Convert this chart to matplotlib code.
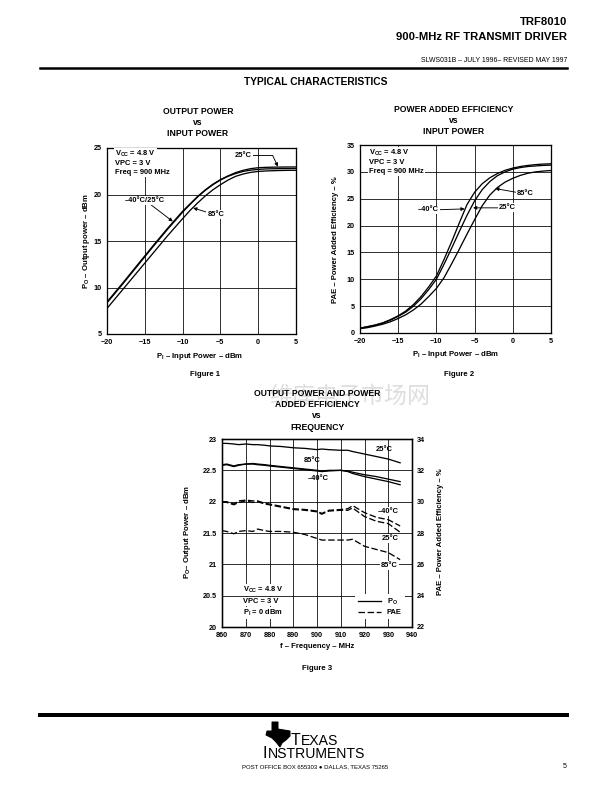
import matplotlib.pyplot as plt
from matplotlib.lines import Line2D
from matplotlib.patches import Polygon

plt.rcParams['font.family'] = ['Liberation Sans', 'DejaVu Sans']
plt.rcParams['font.weight'] = 'bold'
plt.rcParams['axes.labelweight'] = 'bold'
plt.rcParams['mathtext.fontset'] = 'custom'
plt.rcParams['mathtext.rm'] = 'Liberation Sans:bold'
plt.rcParams['mathtext.it'] = 'Liberation Sans:bold'
plt.rcParams['mathtext.bf'] = 'Liberation Sans:bold'

# Figure 1 - output power vs input power
pin1 = [-20, -18, -16, -14, -12, -10, -9, -8, -7, -6, -5, -4, -3, -2, -1, 0, 1, 2, 3, 4, 5]
po_25 = [8.45, 10.4, 12.4, 14.4, 16.35, 18.2, 19.0, 19.8, 20.5, 21.1, 21.6, 22.0, 22.35, 22.6,
         22.78, 22.88, 22.92, 22.94, 22.95, 22.96, 22.96]
po_m40 = [8.35, 10.3, 12.3, 14.3, 16.25, 18.1, 18.95, 19.75, 20.45, 21.05, 21.55, 21.95, 22.25,
          22.48, 22.62, 22.7, 22.75, 22.77, 22.78, 22.79, 22.8]
po_85 = [7.75, 9.7, 11.65, 13.6, 15.55, 17.4, 18.3, 19.1, 19.85, 20.5, 21.05, 21.55, 21.95, 22.2,
         22.38, 22.48, 22.53, 22.56, 22.58, 22.6, 22.6]

# Figure 2 - PAE vs input power
pin2 = list(range(-20, 6))
pae_m40 = [0.9, 1.2, 1.5, 1.9, 2.5, 3.2, 4.1, 5.3, 6.8, 8.6, 10.6, 13.7, 17.0, 20.5, 23.9, 26.2,
           27.8, 28.9, 29.7, 30.3, 30.7, 31.0, 31.2, 31.35, 31.45, 31.5]
pae_25 = [0.9, 1.15, 1.45, 1.85, 2.4, 3.1, 3.9, 5.0, 6.4, 8.1, 10.0, 12.8, 15.8, 18.9, 21.9, 24.6,
          26.7, 28.2, 29.3, 30.0, 30.5, 30.8, 31.0, 31.1, 31.2, 31.25]
pae_85 = [0.8, 1.0, 1.3, 1.65, 2.1, 2.7, 3.4, 4.3, 5.4, 6.8, 8.3, 10.3, 12.9, 15.6, 18.4, 21.1,
          23.7, 25.7, 27.1, 28.1, 28.8, 29.35, 29.75, 30.0, 30.15, 30.25]

# Figure 3 - Po and PAE vs frequency
freq = [860, 862, 865, 867, 870, 873, 875, 878, 880, 885, 890, 895, 900, 902, 905, 910, 913, 915,
        920, 925, 930, 935]
pof_25 = [22.93, 22.93, 22.92, 22.91, 22.92, 22.91, 22.91, 22.90, 22.89, 22.88, 22.86, 22.85, 22.83,
          22.84, 22.83, 22.82, 22.82, 22.80, 22.76, 22.72, 22.68, 22.62]
pof_85 = [22.59, 22.60, 22.57, 22.59, 22.60, 22.61, 22.60, 22.59, 22.58, 22.56, 22.54, 22.52, 22.50,
          22.49, 22.50, 22.50, 22.49, 22.47, 22.43, 22.40, 22.36, 22.32]
pof_m40 = [22.58, 22.59, 22.56, 22.58, 22.60, 22.60, 22.59, 22.58, 22.57, 22.55, 22.53, 22.51, 22.49,
           22.48, 22.49, 22.50, 22.48, 22.45, 22.40, 22.36, 22.32, 22.27]
paef_m40 = [30.0, 30.0, 29.85, 30.05, 30.1, 30.05, 30.05, 29.9, 29.85, 29.7, 29.55, 29.5, 29.4, 29.25,
            29.45, 29.5, 29.55, 29.75, 29.3, 29.0, 28.85, 28.45]
paef_25 = [30.0, 29.95, 29.8, 29.95, 30.05, 29.95, 30.0, 29.85, 29.8, 29.65, 29.5, 29.45, 29.35, 29.2,
           29.4, 29.45, 29.45, 29.6, 29.05, 28.75, 28.6, 28.05]
paef_85 = [28.15, 28.1, 27.95, 28.1, 28.15, 28.1, 28.25, 28.15, 28.1, 28.1, 28.05, 27.9, 27.65, 27.55,
           27.55, 27.55, 27.55, 27.6, 27.15, 26.95, 26.75, 26.3]

W, H = 612, 792
fig = plt.figure(figsize=(8.5, 11), dpi=72)
renderer = fig.canvas.get_renderer()

TICK = 7.2
ANN = 7.5
LAB = 7.8
TTL = 8.6


def ftext(x, y, s, **kw):
    return fig.text(x / W, 1 - y / H, s, **kw)


def ftext_parts(x, y, parts, **kw):
    # parts: list of (string, fontsize) drawn left to right on one baseline
    for s, size in parts:
        t = ftext(x, y, s, fontsize=size, ha='left', va='baseline', **kw)
        x = t.get_window_extent(renderer).x1


def add_ax(l, t, r, b):
    return fig.add_axes([l / W, 1 - b / H, (r - l) / W, (b - t) / H])


def style(ax):
    ax.grid(True, color='black', lw=0.8)
    ax.tick_params(length=0, labelsize=TICK, pad=5)
    for s in ax.spines.values():
        s.set_linewidth(1.3)


def hrule(y, lw):
    fig.add_artist(Line2D([40 / W, 567 / W], [1 - y / H, 1 - y / H], color='black', lw=lw))


box = dict(facecolor='white', edgecolor='none', pad=1)
arrow = dict(arrowstyle='-|>', color='black', lw=0.9, mutation_scale=7, shrinkA=0, shrinkB=0)

# header
ftext(567, 22, 'TRF8010', fontsize=11.3, ha='right', va='center')
ftext(567, 37, '900-MHz RF TRANSMIT DRIVER', fontsize=11.3, ha='right', va='center')
ftext(567, 61, 'SLWS031B – JULY 1996– REVISED MAY 1997', fontsize=6.9, ha='right', va='center',
      weight='normal')
hrule(68, 2.5)
ftext(316, 82, 'TYPICAL CHARACTERISTICS', fontsize=10.3, ha='center', va='center')

# watermark
ftext(350, 396, '维库电子市场网', fontsize=23, color='#dedede', ha='center', va='center',
      family=['Noto Sans CJK SC'], weight='normal', zorder=0)

# ---- Figure 1
for i, line in enumerate(['OUTPUT POWER', 'vs', 'INPUT POWER']):
    ftext(198, 112 + i * 10.6, line, fontsize=TTL, ha='center', va='center')
ax1 = add_ax(107, 148, 296, 334)
style(ax1)
ax1.plot(pin1, po_25, color='black', lw=1.3)
ax1.plot(pin1, po_m40, color='black', lw=1.3)
ax1.plot(pin1, po_85, color='black', lw=1.3)
ax1.set_xlim(-20, 5)
ax1.set_ylim(5, 25)
ax1.set_xticks(range(-20, 6, 5))
ax1.set_yticks(range(5, 26, 5))
ftext(200, 356, 'P$_I$ – Input Power – dBm', fontsize=LAB, ha='center', va='center')
ftext(87, 241, 'P$_O$ – Output power – dBm', fontsize=LAB, ha='center', va='center', rotation=90)
for i, line in enumerate(['V$_{CC}$ = 4.8 V', 'VPC = 3 V', 'Freq = 900 MHz']):
    ftext(115, 154 + i * 9.3, line, fontsize=ANN, ha='left', va='center', bbox=box)
ax1.annotate('25°C', xy=(2.6, 23.0), xytext=(-2.0, 24.2), fontsize=ANN, ha='center', va='center',
             bbox=box, arrowprops=dict(arrow, connectionstyle='angle,angleA=0,angleB=115,rad=0'))
ax1.annotate('–40°C/25°C', xy=(-11.3, 17.1), xytext=(-15.0, 19.4), fontsize=ANN, ha='center',
             va='center', bbox=box, arrowprops=arrow)
ax1.annotate('85°C', xy=(-8.6, 18.55), xytext=(-5.6, 17.8), fontsize=ANN, ha='center', va='center',
             bbox=box, arrowprops=arrow)
ftext(205, 374, 'Figure 1', fontsize=7.8, ha='center', va='center')

# ---- Figure 2
for i, line in enumerate(['POWER ADDED EFFICIENCY', 'vs', 'INPUT POWER']):
    ftext(454, 110 + i * 10.6, line, fontsize=TTL, ha='center', va='center')
ax2 = add_ax(360, 145, 551, 333)
style(ax2)
ax2.plot(pin2, pae_m40, color='black', lw=1.3)
ax2.plot(pin2, pae_25, color='black', lw=1.3)
ax2.plot(pin2, pae_85, color='black', lw=1.3)
ax2.set_xlim(-20, 5)
ax2.set_ylim(0, 35)
ax2.set_xticks(range(-20, 6, 5))
ax2.set_yticks(range(0, 36, 5))
ftext(456, 354, 'P$_I$ – Input Power – dBm', fontsize=LAB, ha='center', va='center')
ftext(335, 240, 'PAE – Power Added Efficiency – %', fontsize=LAB, ha='center', va='center',
      rotation=90)
for i, line in enumerate(['V$_{CC}$ = 4.8 V', 'VPC = 3 V', 'Freq = 900 MHz']):
    ftext(369, 153 + i * 9.3, line, fontsize=ANN, ha='left', va='center', bbox=box)
ax2.annotate('–40°C', xy=(-6.3, 23.1), xytext=(-11.0, 22.9), fontsize=ANN, ha='center',
             va='center', bbox=box, arrowprops=arrow)
ax2.annotate('25°C', xy=(-5.2, 23.3), xytext=(-0.7, 23.3), fontsize=ANN, ha='center', va='center',
             bbox=box, arrowprops=arrow)
ax2.annotate('85°C', xy=(-2.3, 26.9), xytext=(1.6, 25.9), fontsize=ANN, ha='center', va='center',
             bbox=box, arrowprops=arrow)
ftext(459, 374, 'Figure 2', fontsize=7.8, ha='center', va='center')

# ---- Figure 3
for i, line in enumerate(['OUTPUT POWER AND POWER', 'ADDED EFFICIENCY', 'vs', 'FREQUENCY']):
    ftext(317, 393 + i * 11.4, line, fontsize=TTL, ha='center', va='center')
ax3 = add_ax(222, 439, 412, 627)
style(ax3)
ax3r = ax3.twinx()
ax3r.tick_params(length=0, labelsize=TICK, pad=5)
for s in ax3r.spines.values():
    s.set_linewidth(1.3)
ax3.plot(freq, pof_25, color='black', lw=1.3)
ax3.plot(freq, pof_85, color='black', lw=1.3)
ax3.plot(freq, pof_m40, color='black', lw=1.3)
dash = (0, (5, 2))
ax3r.plot(freq, paef_m40, color='black', lw=1.3, ls=dash)
ax3r.plot(freq, paef_25, color='black', lw=1.3, ls=dash)
ax3r.plot(freq, paef_85, color='black', lw=1.3, ls=dash)
ax3.set_xlim(860, 940)
ax3.set_ylim(20, 23)
ax3r.set_ylim(22, 34)
ax3.set_xticks(range(860, 941, 10))
ax3.set_yticks([20, 20.5, 21, 21.5, 22, 22.5, 23])
ax3.set_yticklabels(['20', '20.5', '21', '21.5', '22', '22.5', '23'])
ax3r.set_yticks(range(22, 35, 2))
ftext(317, 647, 'f – Frequency – MHz', fontsize=LAB, ha='center', va='center')
ftext(187, 532, 'P$_O$– Output Power – dBm', fontsize=LAB, ha='center', va='center', rotation=90)
ftext(440, 532, 'PAE – Power Added Efficiency – %', fontsize=LAB, ha='center', va='center',
      rotation=90)
for i, line in enumerate(['V$_{CC}$ = 4.8 V', 'VPC = 3 V', 'P$_I$ = 0 dBm']):
    ftext(243, 590 + i * 11.5, line, fontsize=ANN, ha='left', va='center', bbox=box)
ax3r.text(928.5, 33.35, '25°C', fontsize=ANN, ha='center', va='center')
ax3r.text(898, 32.65, '85°C', fontsize=ANN, ha='center', va='center')
ax3r.text(900.5, 31.5, '–40°C', fontsize=ANN, ha='center', va='center')
ax3r.text(930, 29.4, '–40°C', fontsize=ANN, ha='center', va='center', bbox=box)
ax3r.text(931, 27.65, '25°C', fontsize=ANN, ha='center', va='center', bbox=box)
ax3r.text(930.5, 25.9, '85°C', fontsize=ANN, ha='center', va='center', bbox=box)
handles = [Line2D([], [], color='black', lw=1.3), Line2D([], [], color='black', lw=1.3, ls=dash)]
ax3r.legend(handles, ['P$_O$', 'PAE'], loc='lower right', fontsize=ANN, frameon=True,
            facecolor='white', edgecolor='none', framealpha=1, handlelength=3.0,
            handletextpad=0.8, borderaxespad=1.0, labelspacing=0.3)
ftext(317, 669, 'Figure 3', fontsize=7.8, ha='center', va='center')

# footer
hrule(715, 4)
logo = [(272, 722), (278, 722), (278, 729), (290, 731), (290, 736), (286, 740), (282, 743),
        (280, 747), (276, 742), (272, 738), (266, 735), (267, 731), (272, 731)]
fig.add_artist(Polygon([(x / W, 1 - y / H) for x, y in logo], closed=True, color='black',
                       transform=fig.transFigure))
ftext_parts(291, 745, [('T', 16), ('EXAS', 14)], weight='normal')
ftext_parts(263, 758, [('I', 16), ('NSTRUMENTS', 14)], weight='normal')
ftext(242, 767, 'POST OFFICE BOX 655303 ● DALLAS, TEXAS 75265', fontsize=6, ha='left',
      va='center', weight='normal')
ftext(567, 766, '5', fontsize=7, ha='right', va='center', weight='normal')

fig.savefig('out.png', dpi=72)
